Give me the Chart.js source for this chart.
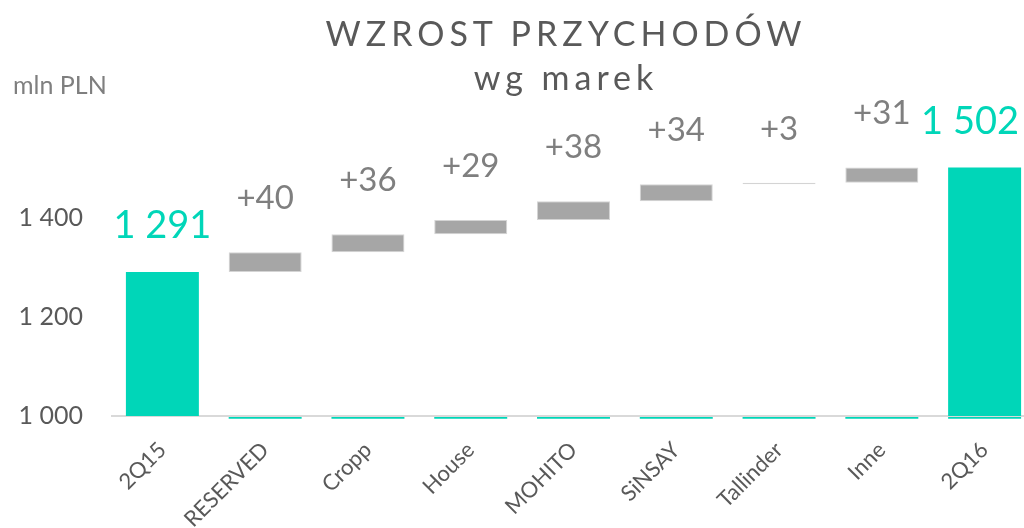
<!DOCTYPE html>
<html>
<head>
<meta charset="utf-8">
<script src="https://cdn.jsdelivr.net/npm/chart.js@4.4.1/dist/chart.umd.min.js"></script>
<style>
  html, body { margin: 0; padding: 0; background: #fff; overflow: hidden; }
  #wrap { position: relative; width: 1024px; height: 528px; overflow: hidden; }
  #chartBox { position: absolute; left: 0; top: 0; width: 1040px; height: 528px; }
  .title { position: absolute; left: 566px; transform: translateX(-50%); white-space: nowrap;
           font-family: Lato, sans-serif; color: #595959; font-size: 34px; letter-spacing: 5px; }
  #unit { position: absolute; left: 13px; top: 69px; font-family: Lato, sans-serif;
          font-size: 25px; color: #7f7f7f; }
</style>
</head>
<body>
<div id="wrap">
  <div id="chartBox"><canvas id="waterfall"></canvas></div>
  <div class="title" style="top:12px">WZROST PRZYCHODÓW</div>
  <div class="title" style="top:56px">wg marek</div>
  <div id="unit">mln PLN</div>
</div>
<script>
// Waterfall data (mln PLN)
const categories = ['2Q15', 'RESERVED', 'Cropp', 'House', 'MOHITO', 'SiNSAY', 'Tallinder', 'Inne', '2Q16'];
const changes = [1291, 40, 36, 29, 38, 34, 3, 31, 1502]; // first and last are totals
const isTotal = [true, false, false, false, false, false, false, false, true];
const yTicks = [1000, 1200, 1400];

const TEAL = '#00d6b8';
const GREY = '#a6a6a6';

const fmt = v => String(v).replace(/\B(?=(\d{3})+(?!\d))/g, ' ');

// build floating bars
let running = 0;
const bars = changes.map((v, i) => {
    if (isTotal[i]) { running = v; return [1000, v]; }
    const start = running;
    running += v;
    return [start, running];
});
const strips = categories.map((c, i) => i === 0 ? null : [994.5, 998]);

const valueLabels = {
    id: 'valueLabels',
    afterDatasetsDraw(chart) {
        const ctx = chart.ctx;
        const meta = chart.getDatasetMeta(1);
        ctx.save();
        ctx.textAlign = 'center';
        ctx.textBaseline = 'middle';
        meta.data.forEach((bar, i) => {
            const top = Math.min(bar.y, bar.base);
            if (isTotal[i]) {
                ctx.font = '38px Lato';
                ctx.fillStyle = TEAL;
                const txt = fmt(changes[i]);
                const w = ctx.measureText(txt).width;
                const x = Math.min(bar.x, 1019 - w / 2); // keep inside the visible page
                ctx.fillText(txt, x, top - 46);
            } else {
                ctx.font = '33px Lato';
                ctx.fillStyle = '#7f7f7f';
                ctx.fillText('+' + changes[i], bar.x, top - 54);
            }
        });
        ctx.restore();
    }
};

new Chart(document.getElementById('waterfall').getContext('2d'), {
    type: 'bar',
    data: {
        labels: categories,
        datasets: [{
            data: strips,
            backgroundColor: TEAL,
            grouped: false,
            categoryPercentage: 1,
            barPercentage: 0.71
        }, {
            data: bars,
            backgroundColor: isTotal.map(t => t ? TEAL : GREY),
            borderColor: isTotal.map(t => t ? TEAL : '#d4d4d4'),
            borderWidth: isTotal.map(t => t ? 0 : 1),
            borderSkipped: false,
            grouped: false,
            categoryPercentage: 1,
            barPercentage: 0.71
        }]
    },
    options: {
        responsive: true,
        maintainAspectRatio: false,
        animation: false,
        layout: { padding: { top: 119, right: 4, left: 0, bottom: 0 } },
        plugins: { legend: { display: false }, tooltip: { enabled: false } },
        scales: {
            x: {
                grid: { display: false },
                border: { display: false },
                afterFit: s => { s.height = 109; },
                ticks: {
                    minRotation: 45, maxRotation: 45,
                    padding: 10,
                    color: '#595959',
                    font: { family: 'Lato', size: 22 }
                }
            },
            y: {
                min: 994, max: 1600,
                afterFit: s => { s.width = 111; },
                afterBuildTicks: s => { s.ticks = yTicks.map(v => ({ value: v })); },
                border: { display: false },
                grid: {
                    drawTicks: false,
                    lineWidth: 2,
                    color: c => c.tick && c.tick.value === 1000 ? '#d9d9d9' : 'rgba(0,0,0,0)'
                },
                ticks: {
                    padding: 28,
                    color: '#595959',
                    font: { family: 'Lato', size: 25 },
                    callback: v => fmt(v)
                }
            }
        }
    },
    plugins: [valueLabels]
});
</script>
</body>
</html>
